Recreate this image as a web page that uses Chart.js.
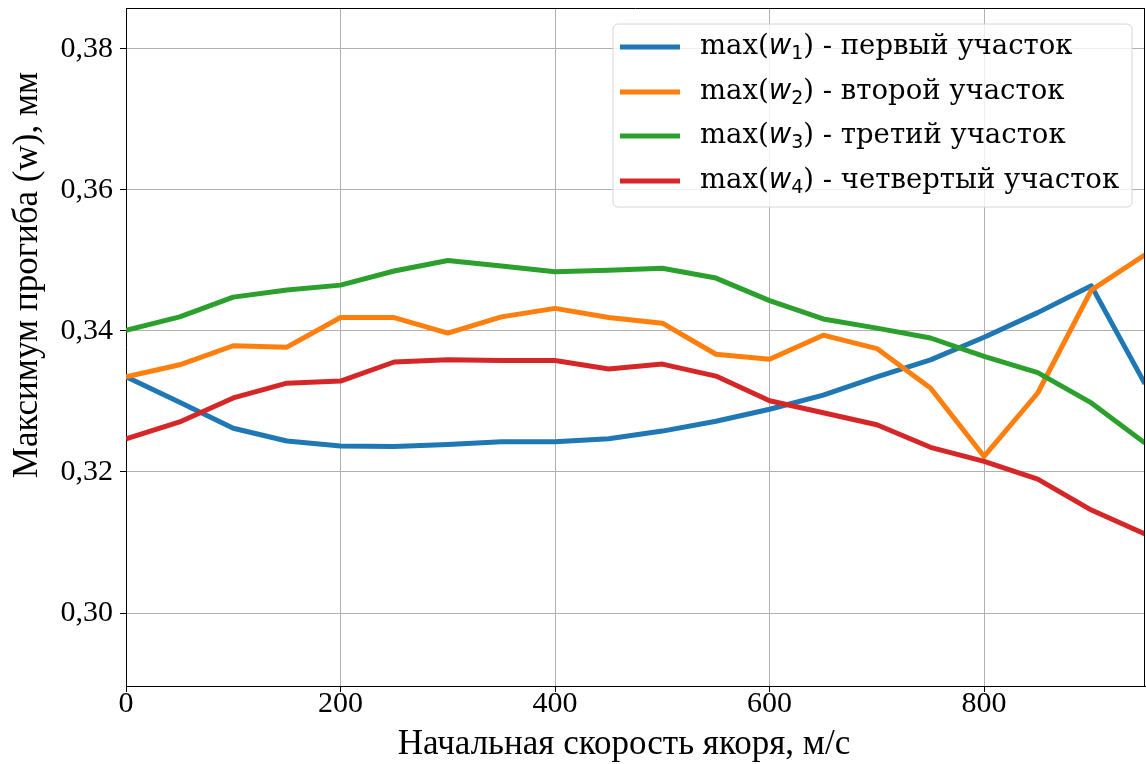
<!DOCTYPE html>
<html><head><meta charset="utf-8">
<script src="https://cdn.jsdelivr.net/npm/chart.js@4.4.0/dist/chart.umd.min.js"></script>
<style>html,body{margin:0;padding:0;background:#fff}#wrap{width:1146px;height:764px}</style>
</head>
<body><div id="wrap"><canvas id="c" width="1146" height="764"></canvas></div>
<script>
const speeds = [0,50,100,150,200,250,300,350,400,450,500,550,600,650,700,750,800,850,900,950];
const w1 = [0.3335,0.3299,0.3262,0.3244,0.3237,0.3236,0.3239,0.3243,0.3243,0.3247,0.3258,0.3272,0.3289,0.3309,0.3335,0.3359,0.3391,0.3426,0.3464,0.3325];
const w2 = [0.3335,0.3352,0.3379,0.3377,0.3419,0.3419,0.3397,0.3420,0.3432,0.3419,0.3411,0.3367,0.3360,0.3394,0.3375,0.3319,0.3222,0.3312,0.3458,0.3508];
const w3 = [0.3401,0.3420,0.3448,0.3458,0.3465,0.3485,0.3500,0.3492,0.3484,0.3486,0.3489,0.3475,0.3443,0.3417,0.3404,0.3390,0.3364,0.3341,0.3298,0.3241];
const w4 = [0.3247,0.3271,0.3305,0.3326,0.3329,0.3356,0.3359,0.3358,0.3358,0.3346,0.3353,0.3336,0.3301,0.3284,0.3267,0.3235,0.3215,0.3190,0.3146,0.3112];
const seriesSub = ['1','2','3','4'];
const seriesNames = ['первый участок','второй участок','третий участок','четвертый участок'];
const seriesColors = ['#1f77b4','#ff7f0e','#2ca02c','#d62728'];
const xTicks = [0,200,400,600,800];
const yTicks = [0.30,0.32,0.34,0.36,0.38];
const xTitle = 'Начальная скорость якоря, м/с';
const yTitle = 'Максимум прогиба (w), мм';

const allSeries = [w1,w2,w3,w4];
const datasets = allSeries.map((arr,i)=>({
  label: 'max(w' + seriesSub[i] + ') - ' + seriesNames[i],
  data: speeds.map((s,j)=>({x:s,y:arr[j]})),
  borderColor: seriesColors[i],
  backgroundColor: seriesColors[i],
  borderWidth: 5,
  pointRadius: 0,
  tension: 0,
  fill: false,
  order: 3 - i,
  borderJoinStyle: 'round',
  borderCapStyle: 'butt'
}));

const frameAndLegend = {
  id: 'frameAndLegend',
  afterDraw(chart) {
    const ctx = chart.ctx;
    const a = chart.chartArea;
    ctx.save();
    ctx.strokeStyle = '#000';
    ctx.lineWidth = 1;
    ctx.beginPath();
    ctx.moveTo(a.left, a.top + 0.5);
    ctx.lineTo(a.right, a.top + 0.5);
    ctx.moveTo(a.right - 0.5, a.top);
    ctx.lineTo(a.right - 0.5, a.bottom);
    ctx.stroke();

    // axis titles
    ctx.fillStyle = '#000';
    ctx.font = '35px "Liberation Serif"';
    ctx.textAlign = 'center';
    ctx.textBaseline = 'middle';
    ctx.fillText(xTitle, 624, 745);
    ctx.save();
    ctx.translate(28, 275);
    ctx.rotate(-Math.PI / 2);
    ctx.fillText(yTitle, 0, 0);
    ctx.restore();

    // legend box
    const bx = 613, by = 24, bw = 519, bh = 183, r = 5;
    ctx.beginPath();
    ctx.moveTo(bx + r, by);
    ctx.arcTo(bx + bw, by, bx + bw, by + bh, r);
    ctx.arcTo(bx + bw, by + bh, bx, by + bh, r);
    ctx.arcTo(bx, by + bh, bx, by, r);
    ctx.arcTo(bx, by, bx + bw, by, r);
    ctx.closePath();
    ctx.fillStyle = 'rgba(255,255,255,0.8)';
    ctx.fill();
    ctx.strokeStyle = '#d6d6d6';
    ctx.lineWidth = 1;
    ctx.stroke();

    const rowY = [47, 92, 136, 181];
    chart.data.datasets.forEach((ds, i) => {
      const y = rowY[i];
      ctx.strokeStyle = ds.borderColor;
      ctx.lineWidth = 5;
      ctx.beginPath();
      ctx.moveTo(620, y);
      ctx.lineTo(680, y);
      ctx.stroke();
      ctx.fillStyle = '#000';
      ctx.textBaseline = 'middle';
      ctx.textAlign = 'left';
      let x = 700;
      const fs = 27.5;
      ctx.font = fs + 'px "DejaVu Serif"';
      ctx.fillText('max(', x, y); x += ctx.measureText('max(').width;
      ctx.font = 'italic ' + fs + 'px "DejaVu Sans"';
      ctx.fillText('w', x, y); x += ctx.measureText('w').width;
      ctx.font = Math.round(fs*0.7) + 'px "DejaVu Sans"';
      ctx.fillText(seriesSub[i], x, y + fs*0.25); x += ctx.measureText(seriesSub[i]).width;
      ctx.font = fs + 'px "DejaVu Serif"';
      ctx.fillText(') - ' + seriesNames[i], x, y);
    });
    ctx.restore();
  }
};

new Chart(document.getElementById('c'), {
  type: 'line',
  data: { datasets },
  options: {
    responsive: false,
    animation: false,
    devicePixelRatio: 1,
    layout: { padding: { top: 8, right: 1, left: 0, bottom: 0 } },
    plugins: { legend: { display: false }, tooltip: { enabled: false } },
    scales: {
      x: {
        type: 'linear',
        min: 0, max: 950,
        afterFit(s) { s.height = 78; },
        afterBuildTicks(s) { s.ticks = xTicks.map(v=>({value:v})); },
        ticks: {
          font: { family: '"Liberation Serif"', size: 30, lineHeight: 1 },
          color: '#000',
          padding: -3,
          maxRotation: 0,
          callback: v => String(v)
        },
        grid: { color: '#b0b0b0', lineWidth: 1, tickLength: 6, tickColor: '#000', tickWidth: 1 },
        border: { color: '#000', width: 1 },
        title: { display: false }
      },
      y: {
        type: 'linear',
        min: 0.28965, max: 0.3858,
        afterFit(s) { s.width = 126; s.paddingTop = 0; s.paddingBottom = 0; },
        afterBuildTicks(s) { s.ticks = yTicks.map(v=>({value:v})); },
        ticks: {
          font: { family: '"Liberation Serif"', size: 30, lineHeight: 0.2 },
          color: '#000',
          padding: 7,
          callback: v => Number(v).toFixed(2).replace('.', ',')
        },
        grid: { color: '#b0b0b0', lineWidth: 1, tickLength: 6, tickColor: '#000', tickWidth: 1 },
        border: { color: '#000', width: 1 },
        title: { display: false }
      }
    }
  },
  plugins: [frameAndLegend]
});
</script>
</body></html>
